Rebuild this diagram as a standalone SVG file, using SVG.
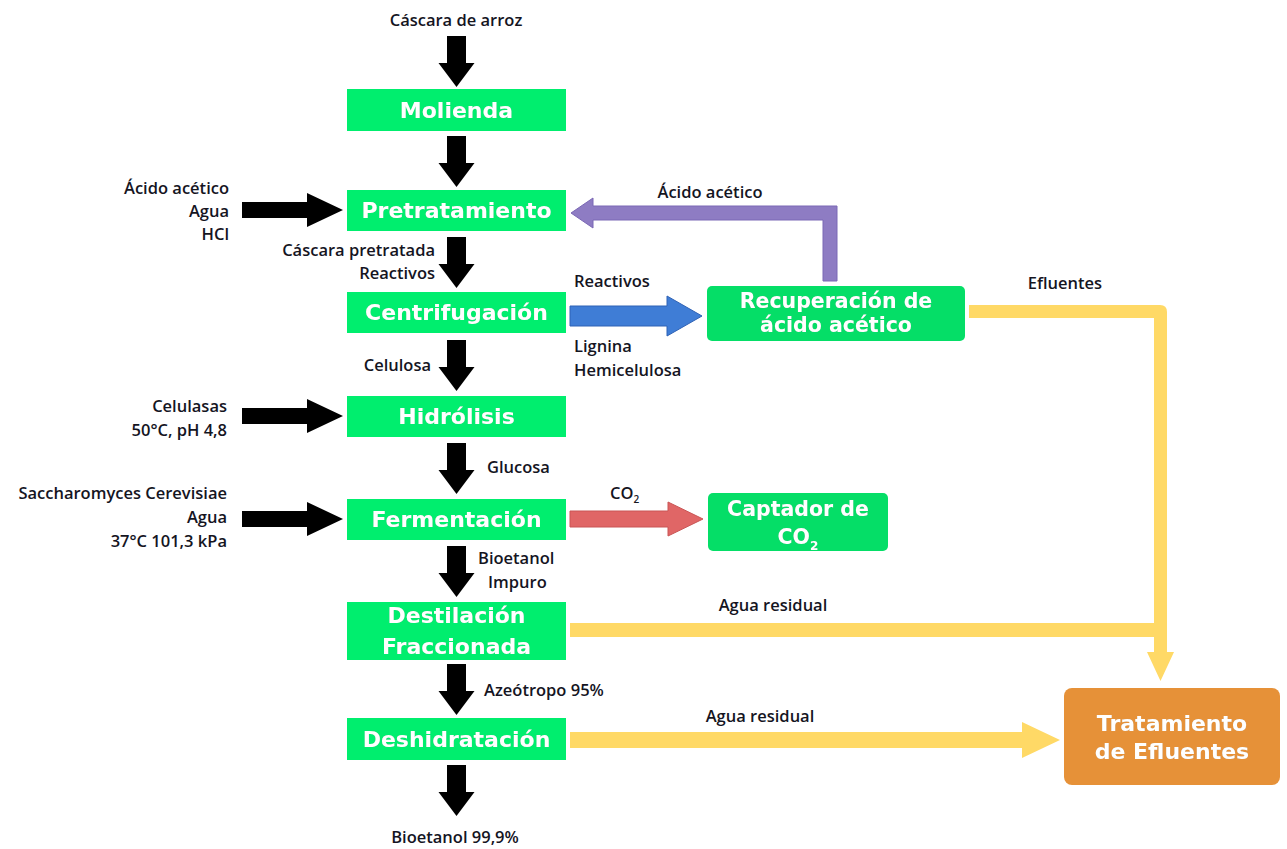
<svg xmlns="http://www.w3.org/2000/svg" width="1287" height="849" viewBox="0 0 1287 849">
  <style>
    .lbl { font-family: "Open Sans", "Liberation Sans", Arial, sans-serif; font-weight: 600; font-size: 16.5px; fill: #15151f; }
    .node { fill: #00EE6E; }
    .node2 { fill: #05DE67; }
    .ntxt { font-family: "DejaVu Sans", "Liberation Sans", sans-serif; font-weight: bold; font-size: 22px; fill: #ffffff; text-anchor: middle; filter: url(#halo); }
    .blk { fill: #000000; }
    .yel { fill: #FFD966; }
  </style>
  <defs>
    <filter id="halo" x="-10%" y="-30%" width="120%" height="160%">
      <feDropShadow dx="0" dy="0" stdDeviation="0.7" flood-color="#1a3a2a" flood-opacity="0.55"/>
    </filter>
    <!-- block arrow pointing down, top-centre at origin -->
    <path id="downArrow" d="M -9.5 0 H 9.5 V 27 H 18 L 0 51 L -18 27 H -9.5 Z"/>
    <!-- block arrow pointing right, left-centre at origin -->
    <path id="rightArrow" d="M 0 -8 H 65 V -17 L 101 0 L 65 17 V 8 H 0 Z"/>
  </defs>

  <!-- connectors -->
  <g id="connectors">
    <use href="#downArrow" class="blk" transform="translate(456.5,36)"/>
    <use href="#downArrow" class="blk" transform="translate(456.5,136)"/>
    <use href="#downArrow" class="blk" transform="translate(456.5,237)"/>
    <use href="#downArrow" class="blk" transform="translate(456.5,340)"/>
    <use href="#downArrow" class="blk" transform="translate(456.5,443)"/>
    <use href="#downArrow" class="blk" transform="translate(456.5,546)"/>
    <use href="#downArrow" class="blk" transform="translate(456.5,664)"/>
    <use href="#downArrow" class="blk" transform="translate(456.5,765)"/>

    <use href="#rightArrow" class="blk" transform="translate(242,210)"/>
    <use href="#rightArrow" class="blk" transform="translate(242,416)"/>
    <use href="#rightArrow" class="blk" transform="translate(242,519)"/>

    <!-- Centrifugación to recovery -->
    <path d="M 570 306 H 667 V 296 L 702 316 L 667 336 V 326 H 570 Z" fill="#3F7DD6" stroke="#2F62B5" stroke-width="1"/>

    <!-- recovered acetic acid back to pretreatment -->
    <path d="M 571 213 L 593 198 V 206 H 837 V 281 H 823 V 220 H 593 V 228 Z" fill="#8E7CC3" stroke="#7B68B5" stroke-width="1"/>

    <!-- CO2 to capture -->
    <path d="M 570 511 H 668 V 502 L 703 519 L 668 536 V 527 H 570 Z" fill="#E06666" stroke="#C95555" stroke-width="1"/>

    <!-- effluent lines to treatment -->
    <path class="yel" d="M 969 305 H 1160 Q 1167 305 1167 312 V 652 H 1174 L 1160.5 681 L 1147 652 H 1154 V 318 H 969 Z"/>
    <rect class="yel" x="570" y="623" width="590" height="14"/>
    <path class="yel" d="M 570 732 H 1022 V 722 L 1060 740 L 1022 758 V 748 H 570 Z"/>
  </g>

  <!-- nodes -->
  <g id="molienda">
    <rect class="node" x="347" y="89" width="219" height="42"/>
    <text class="ntxt" x="456.5" y="118">Molienda</text>
  </g>
  <g id="pretratamiento">
    <rect class="node" x="347" y="190" width="219" height="41"/>
    <text class="ntxt" x="456.5" y="218">Pretratamiento</text>
  </g>
  <g id="centrifugacion">
    <rect class="node" x="347" y="292" width="219" height="41"/>
    <text class="ntxt" x="456.5" y="320">Centrifugación</text>
  </g>
  <g id="hidrolisis">
    <rect class="node" x="347" y="396" width="219" height="41"/>
    <text class="ntxt" x="456.5" y="424">Hidrólisis</text>
  </g>
  <g id="fermentacion">
    <rect class="node" x="347" y="499" width="219" height="41"/>
    <text class="ntxt" x="456.5" y="527">Fermentación</text>
  </g>
  <g id="destilacion">
    <rect class="node" x="347" y="602" width="219" height="58"/>
    <text class="ntxt" x="456.5" y="623">Destilación</text>
    <text class="ntxt" x="456.5" y="654">Fraccionada</text>
  </g>
  <g id="deshidratacion">
    <rect class="node" x="347" y="718" width="219" height="42"/>
    <text class="ntxt" x="456.5" y="747">Deshidratación</text>
  </g>
  <g id="recuperacion">
    <rect class="node2" x="707" y="286" width="258" height="55" rx="5"/>
    <text class="ntxt" x="836" y="308" style="font-size:20.5px">Recuperación de</text>
    <text class="ntxt" x="836" y="332" style="font-size:20.5px">ácido acético</text>
  </g>
  <g id="captador">
    <rect class="node2" x="708" y="493" width="180" height="58" rx="5"/>
    <text class="ntxt" x="798" y="516" style="font-size:20.5px">Captador de</text>
    <text class="ntxt" x="798" y="544" style="font-size:20.5px">CO<tspan font-size="12" dy="6">2</tspan></text>
  </g>
  <g id="tratamiento">
    <rect x="1064" y="688" width="216" height="97" rx="8" fill="#E69138"/>
    <text class="ntxt" x="1172" y="731">Tratamiento</text>
    <text class="ntxt" x="1172" y="759">de Efluentes</text>
  </g>

  <!-- stream labels -->
  <g id="labels">
    <text class="lbl" x="456" y="26" text-anchor="middle">Cáscara de arroz</text>
    <text class="lbl" x="229" y="194" text-anchor="end">Ácido acético</text>
    <text class="lbl" x="229" y="217" text-anchor="end">Agua</text>
    <text class="lbl" x="229" y="240" text-anchor="end">HCl</text>
    <text class="lbl" x="435" y="256" text-anchor="end">Cáscara pretratada</text>
    <text class="lbl" x="435" y="279" text-anchor="end">Reactivos</text>
    <text class="lbl" x="710" y="198" text-anchor="middle">Ácido acético</text>
    <text class="lbl" x="574" y="287">Reactivos</text>
    <text class="lbl" x="574" y="352">Lignina</text>
    <text class="lbl" x="574" y="376">Hemicelulosa</text>
    <text class="lbl" x="1065" y="289" text-anchor="middle">Efluentes</text>
    <text class="lbl" x="431" y="371" text-anchor="end">Celulosa</text>
    <text class="lbl" x="227" y="412" text-anchor="end">Celulasas</text>
    <text class="lbl" x="227" y="436" text-anchor="end">50°C, pH 4,8</text>
    <text class="lbl" x="487" y="473">Glucosa</text>
    <text class="lbl" x="227" y="499" text-anchor="end">Saccharomyces Cerevisiae</text>
    <text class="lbl" x="227" y="523" text-anchor="end">Agua</text>
    <text class="lbl" x="227" y="547" text-anchor="end">37°C 101,3 kPa</text>
    <text class="lbl" x="610" y="499">CO<tspan font-size="10" dy="4">2</tspan></text>
    <text class="lbl" x="478" y="564">Bioetanol</text>
    <text class="lbl" x="488" y="588">Impuro</text>
    <text class="lbl" x="773" y="611" text-anchor="middle">Agua residual</text>
    <text class="lbl" x="484" y="696">Azeótropo 95%</text>
    <text class="lbl" x="760" y="722" text-anchor="middle">Agua residual</text>
    <text class="lbl" x="455" y="843" text-anchor="middle">Bioetanol 99,9%</text>
  </g>
</svg>
